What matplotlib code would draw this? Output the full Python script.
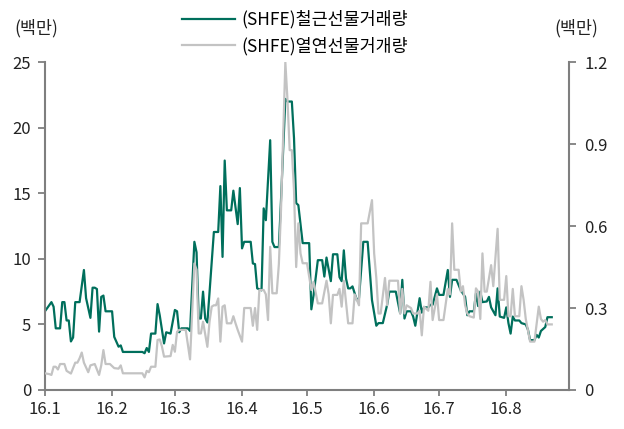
import matplotlib
matplotlib.use("Agg")
import matplotlib.pyplot as plt
import pandas as pd

plt.rcParams['font.family'] = ['Noto Sans CJK KR', 'DejaVu Sans']

# days after 2016-01-01
rebar_days = [0, 3, 4, 5, 7, 8, 9, 10, 11, 12, 13, 14, 16, 18, 19, 21, 22, 23, 24, 25,
              26, 27, 28, 31, 32, 34, 35, 36, 45, 46, 47, 48, 49, 51, 52, 53, 55, 56, 58, 60,
              61, 62, 63, 66, 67, 69, 70, 71, 72, 73, 74, 75, 78, 80, 81, 82, 83, 84, 86, 87,
              89, 90, 91, 92, 95, 96, 97, 98, 100, 101, 102, 104, 105, 106, 108, 109, 111, 112, 114, 115,
              116, 117, 119, 122, 123, 124, 126, 128, 129, 130, 132, 133, 135, 136, 137, 138, 139, 140, 141, 142,
              144, 145, 147, 149, 151, 153, 154, 156, 158, 159, 162, 164, 165, 166, 167, 169, 170, 171, 173, 174,
              175, 177, 178, 179, 181, 182, 184, 186, 187, 188, 190, 192, 194, 195, 196, 198, 199, 200, 201, 202,
              204, 205, 206, 208, 209, 210, 212, 213, 214, 215, 216, 217, 219, 220, 222, 223, 224, 226, 227, 228,
              229, 231, 232, 234]
rebar_vol = [6.0, 6.7, 6.35, 4.7, 4.7, 6.7, 6.7, 5.3, 5.3, 3.7, 4.0, 6.7, 6.7, 9.15, 7.0, 5.5, 7.8, 7.8, 7.7, 4.45,
             7.1, 7.2, 6.0, 6.0, 4.05, 3.3, 3.4, 2.9, 2.9, 2.8, 3.2, 2.9, 4.3, 4.3, 6.55, 5.7, 3.55, 4.4, 4.3, 6.1,
             6.0, 4.4, 4.7, 4.7, 4.5, 11.3, 10.5, 5.45, 5.45, 7.5, 5.45, 5.15, 12.05, 12.05, 15.55, 10.15, 17.5, 13.7, 13.7, 15.2,
             12.65, 15.4, 10.8, 11.3, 11.3, 9.65, 9.6, 7.75, 7.6, 13.85, 12.95, 19.05, 11.3, 10.9, 10.9, 14.5, 22.2, 22.0, 22.0, 19.2,
             14.25, 14.1, 11.2, 11.2, 6.15, 7.2, 9.9, 9.9, 8.65, 10.1, 8.3, 10.35, 10.35, 8.6, 8.3, 10.65, 8.5, 7.75, 7.75, 7.9,
             6.85, 7.0, 11.3, 11.3, 6.85, 4.9, 5.1, 5.1, 6.5, 7.5, 7.5, 5.85, 8.4, 5.45, 6.0, 6.0, 5.6, 4.9, 7.0, 5.9,
             6.3, 6.3, 6.5, 6.5, 7.75, 7.25, 7.25, 9.15, 7.1, 8.4, 8.4, 7.6, 7.1, 5.7, 6.0, 6.0, 7.35, 6.4, 7.5, 6.7,
             6.75, 7.1, 6.3, 5.7, 7.75, 5.6, 5.5, 6.3, 5.1, 4.3, 5.6, 5.3, 5.3, 5.1, 5.0, 4.6, 3.8, 3.8, 4.2, 4.0,
             4.5, 4.8, 5.55, 5.55]

hrc_days = [0, 2, 3, 4, 5, 6, 7, 9, 10, 12, 14, 15, 16, 17, 18, 20, 21, 23, 24, 25,
            26, 27, 28, 30, 32, 34, 35, 36, 45, 46, 47, 48, 49, 51, 52, 53, 54, 55, 58, 59,
            60, 61, 62, 65, 67, 69, 70, 71, 72, 73, 75, 76, 77, 78, 79, 80, 81, 82, 83, 84,
            86, 87, 88, 89, 91, 92, 95, 96, 97, 98, 99, 101, 102, 103, 104, 105, 107, 108, 109, 111,
            112, 113, 114, 115, 116, 117, 118, 119, 121, 123, 124, 126, 128, 130, 131, 132, 133, 135, 136, 137,
            138, 140, 142, 143, 145, 146, 149, 151, 152, 153, 154, 155, 157, 158, 159, 163, 164, 165, 166, 167,
            169, 170, 172, 173, 174, 175, 177, 178, 179, 180, 181, 182, 184, 186, 187, 188, 189, 191, 192, 193,
            194, 195, 196, 198, 199, 200, 201, 202, 203, 204, 206, 207, 209, 210, 212, 213, 214, 215, 216, 217,
            219, 220, 221, 222, 224, 226, 228, 229, 230, 231, 232, 234]
hrc_vol = [0.061, 0.058, 0.055, 0.085, 0.085, 0.075, 0.095, 0.095, 0.07, 0.06, 0.1, 0.1, 0.116, 0.137, 0.1, 0.065, 0.09, 0.095, 0.075, 0.055,
           0.09, 0.146, 0.095, 0.095, 0.08, 0.078, 0.09, 0.061, 0.061, 0.046, 0.07, 0.065, 0.085, 0.085, 0.183, 0.185, 0.16, 0.122, 0.124, 0.165,
           0.14, 0.213, 0.22, 0.22, 0.112, 0.463, 0.44, 0.207, 0.207, 0.25, 0.158, 0.25, 0.305, 0.31, 0.31, 0.335, 0.177, 0.305, 0.31, 0.244,
           0.244, 0.27, 0.244, 0.22, 0.177, 0.3, 0.3, 0.235, 0.3, 0.22, 0.366, 0.366, 0.35, 0.256, 0.524, 0.354, 0.354, 0.46, 0.66, 1.2,
           1.06, 0.878, 0.878, 0.73, 0.45, 0.61, 0.5, 0.464, 0.464, 0.366, 0.396, 0.317, 0.317, 0.4, 0.35, 0.244, 0.348, 0.348, 0.37, 0.305,
           0.4, 0.244, 0.244, 0.35, 0.31, 0.61, 0.61, 0.695, 0.5, 0.41, 0.28, 0.28, 0.41, 0.31, 0.4, 0.4, 0.28, 0.37, 0.28, 0.31,
           0.3, 0.28, 0.28, 0.29, 0.2, 0.305, 0.29, 0.396, 0.256, 0.3, 0.35, 0.256, 0.256, 0.37, 0.35, 0.61, 0.44, 0.44, 0.36, 0.38,
           0.31, 0.28, 0.27, 0.265, 0.372, 0.36, 0.26, 0.5, 0.36, 0.36, 0.457, 0.38, 0.59, 0.33, 0.33, 0.417, 0.27, 0.27, 0.37, 0.27,
           0.27, 0.38, 0.33, 0.26, 0.177, 0.177, 0.305, 0.26, 0.25, 0.256, 0.24, 0.24]

month_starts = ['2016-01-01', '2016-02-01', '2016-03-01', '2016-04-01',
                '2016-05-01', '2016-06-01', '2016-07-01', '2016-08-01']
month_labels = ['16.1', '16.2', '16.3', '16.4', '16.5', '16.6', '16.7', '16.8']

rebar_name = '(SHFE)철근선물거래량'
hrc_name = '(SHFE)열연선물거개량'

start = pd.Timestamp('2016-01-01')
rebar_x = start + pd.to_timedelta(rebar_days, unit='D')
hrc_x = start + pd.to_timedelta(hrc_days, unit='D')

green = '#006f5c'
grey = '#c3c3c3'
axis_col = '#7f7f7f'
txt = '#222222'

fig = plt.figure(figsize=(6.24, 4.29), dpi=100)
ax = fig.add_axes([0.072, 0.091, 0.840, 0.764])
ax2 = ax.twinx()

l1, = ax.plot(rebar_x, rebar_vol, color=green, lw=1.6, label=rebar_name)
l2, = ax2.plot(hrc_x, hrc_vol, color=grey, lw=1.6, label=hrc_name)

ax.set_xlim(start, pd.Timestamp('2016-08-30'))
ax.set_ylim(0, 25)
ax2.set_ylim(0, 1.2)
ax.set_yticks([0, 5, 10, 15, 20, 25])
ax2.set_yticks([0, 0.3, 0.6, 0.9, 1.2])
ax2.set_yticklabels(['0', '0.3', '0.6', '0.9', '1.2'])
ax.set_xticks(pd.to_datetime(month_starts))
ax.set_xticklabels(month_labels)

for a in (ax, ax2):
    a.spines['top'].set_visible(False)
    for s in ('left', 'right', 'bottom'):
        a.spines[s].set_color(axis_col)
        a.spines[s].set_linewidth(1.5)
ax.spines['right'].set_visible(False)
ax2.spines['left'].set_visible(False)
ax2.spines['bottom'].set_visible(False)

ax.tick_params(axis='y', direction='out', length=5, width=1.3, color=axis_col,
               labelsize=12, labelcolor=txt, pad=5)
ax.tick_params(axis='x', direction='out', length=4, width=1.3, color=axis_col,
               labelsize=12, labelcolor=txt, pad=4)
ax2.tick_params(axis='y', direction='out', length=5, width=1.3, color=axis_col,
                labelsize=12, labelcolor=txt, pad=6)

fig.text(14 / 624, 1 - 28 / 429, '(백만)', fontsize=12.5, color=txt, va='center', ha='left')
fig.text(598 / 624, 1 - 28 / 429, '(백만)', fontsize=12.5, color=txt, va='center', ha='right')

fig.legend(handles=[l1, l2], loc='upper left', bbox_to_anchor=(172 / 624, 1.0),
           frameon=False, fontsize=12.5, handlelength=3.0, labelspacing=0.45,
           handletextpad=0.4, borderaxespad=0.2)

fig.savefig('out.png', dpi=100)
